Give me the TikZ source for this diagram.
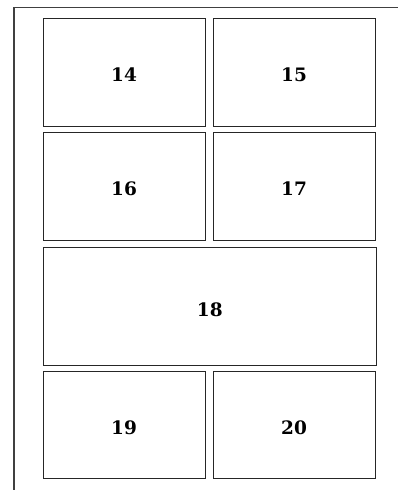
\documentclass[tikz,border=0pt]{standalone}
\usepackage{fontspec}
\usepackage{tikz}

\newfontfamily\panelface{DejaVu Serif}
\newcommand{\panelfont}{\panelface\fontsize{18.5pt}{22pt}\selectfont\bfseries}

\tikzset{
  panel/.style={draw=black!85,line width=1pt,inner sep=0pt,
    minimum width=162pt,minimum height=108pt,
    text height=19pt,text depth=0pt,
    font=\panelfont},
  widepanel/.style={panel,minimum width=333pt,minimum height=118pt}
}

\begin{document}
\begin{tikzpicture}[x=1pt,y=-1pt]
  \useasboundingbox (0,0) rectangle (398,490);
  % page frame
  \draw[black!75,line width=1.6pt] (398,7.3) -- (13.8,7.3) -- (13.8,490);
  % two-up rows
  \node[panel] (p14) at (124,72.3) {14};
  \node[panel] (p15) at (294,72.3) {15};
  \node[panel] (p16) at (124,186) {16};
  \node[panel] (p17) at (294,186) {17};
  % full-width row
  \node[widepanel] (p18) at (209.8,306.5) {18};
  \node[panel,minimum height=107pt] (p19) at (124,425) {19};
  \node[panel,minimum height=107pt] (p20) at (294,425) {20};
\end{tikzpicture}
\end{document}
